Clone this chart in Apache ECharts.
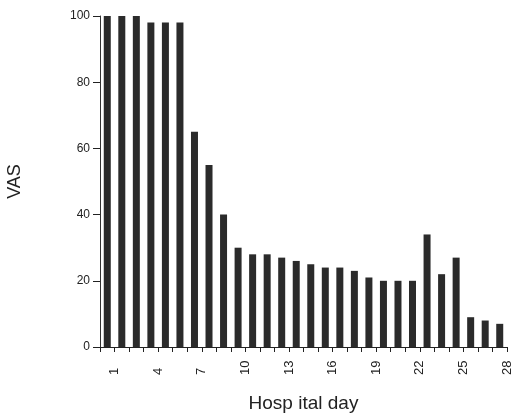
<!DOCTYPE html>
<html>
<head>
<meta charset="utf-8">
<script src="https://cdn.jsdelivr.net/npm/echarts@6/dist/echarts.min.js"></script>
<style>
  html, body { margin: 0; padding: 0; background: #fff; }
  #chart { width: 513px; height: 414px; }
</style>
</head>
<body>
<div id="chart"></div>
<script>
// hospital days 1..28
const days = [1, 2, 3, 4, 5, 6, 7, 8, 9, 10, 11, 12, 13, 14, 15, 16, 17, 18, 19, 20, 21, 22, 23, 24, 25, 26, 27, 28];
// VAS score per day
const vas = [100, 100, 100, 98, 98, 98, 65, 55, 40, 30, 28, 28, 27, 26, 25, 24, 24, 23, 21, 20, 20, 20, 34, 22, 27, 9, 8, 7];
const xLabels = [1, 4, 7, 10, 13, 16, 19, 22, 25, 28];
const yTicks = [0, 20, 40, 60, 80, 100];

const chart = echarts.init(document.getElementById('chart'));
const font = 'Liberation Sans, Arial, sans-serif';

chart.setOption({
  animation: false,
  grid: { left: 100, right: 6, top: 16, bottom: 67, outerBoundsMode: 'none' },
  xAxis: {
    type: 'value',
    min: 0,
    max: days.length,
    interval: 1,
    name: 'Hosp ital day',
    nameLocation: 'middle',
    nameGap: 47,
    nameTextStyle: { fontFamily: font, fontSize: 19, color: '#222' },
    axisLine: { lineStyle: { color: '#222', width: 1 } },
    axisTick: { show: true, length: 5, lineStyle: { color: '#222' } },
    splitLine: { show: false },
    axisLabel: {
      rotate: 90,
      align: 'left',
      verticalAlign: 'middle',
      fontFamily: font,
      fontSize: 13,
      color: '#222',
      margin: 28,
      formatter: v => (xLabels.includes(v) ? String(v) : '')
    }
  },
  yAxis: {
    type: 'value',
    min: yTicks[0],
    max: yTicks[yTicks.length - 1],
    interval: 20,
    name: 'VAS',
    nameLocation: 'middle',
    nameGap: 76,
    nameTextStyle: { fontFamily: font, fontSize: 18, color: '#222' },
    axisLine: { show: true, lineStyle: { color: '#333', width: 1 } },
    axisTick: { show: true, length: 7, lineStyle: { color: '#222' } },
    splitLine: { show: false },
    axisLabel: { fontFamily: font, fontSize: 12, color: '#222', margin: 10 }
  },
  series: [{
    type: 'bar',
    barWidth: 7,
    itemStyle: { color: '#2b2b2b' },
    data: days.map((d, i) => [d - 0.5, vas[i]])
  }]
});
</script>
</body>
</html>
